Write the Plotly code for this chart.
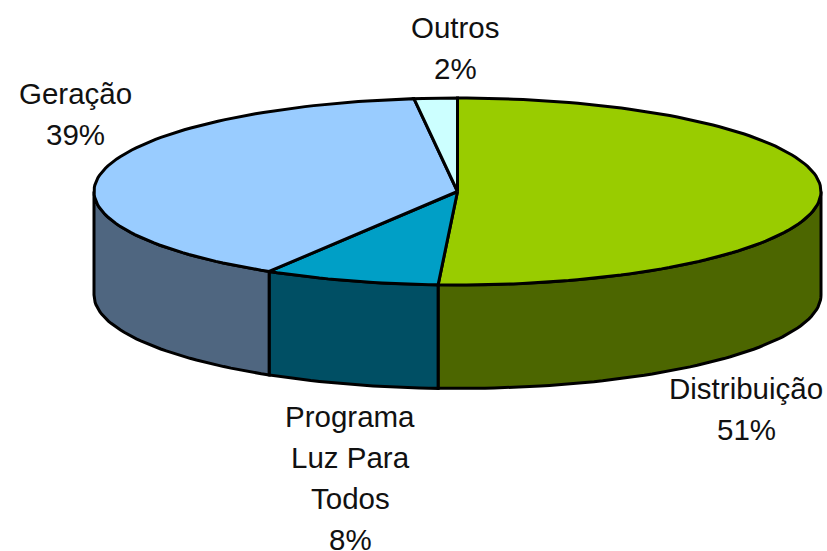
import numpy as np
import plotly.graph_objects as go

categories = [["Distribuição"], ["Programa", "Luz Para", "Todos"], ["Geração"], ["Outros"]]
shares = [50.85, 7.82, 39.42, 1.91]
top_colors = ["#99CC00", "#009FC6", "#99CCFF", "#CCFFFF"]
side_colors = ["#4C6600", "#004F64", "#4F6680", "#667F80"]
label_xy = [(746, 388), (350, 416), (75.5, 93.5), (455, 27.5)]

CX, CY, RX, RY, DEPTH = 457.5, 191.5, 363.5, 93.5, 103.5
LINE_STEP = 41.2

def rim(a0, a1, drop=0.0):
    n = max(2, int(abs(a1 - a0) / 1.5) + 2)
    t = np.radians(np.linspace(a0, a1, n))
    return CX + RX * np.sin(t), CY - RY * np.cos(t) + drop

fig = go.Figure()

def poly(x, y, color):
    fig.add_trace(go.Scatter(x=list(x), y=list(y), mode="lines", fill="toself",
                             fillcolor=color, line=dict(color="black", width=3),
                             hoverinfo="skip", showlegend=False))

edges = np.concatenate([[0], np.cumsum(shares) * 3.6])

# visible outer wall of each slice (front half of the ellipse only)
for i in range(len(shares)):
    a0, a1 = edges[i], edges[i + 1]
    lo, hi = max(a0, 90), min(a1, 270)
    if lo < hi:
        xt, yt = rim(lo, hi)
        xb, yb = rim(hi, lo, DEPTH)
        poly(np.r_[xt, xb, xt[0]], np.r_[yt, yb, yt[0]], side_colors[i])

# top face of each slice
for i in range(len(shares)):
    x, y = rim(edges[i], edges[i + 1])
    poly(np.r_[CX, x, CX], np.r_[CY, y, CY], top_colors[i])

for i, lines in enumerate(categories):
    for j, line in enumerate(lines + [f"{round(shares[i])}%"]):
        fig.add_annotation(x=label_xy[i][0], y=label_xy[i][1] + j * LINE_STEP,
                           xref="x", yref="y", text=line, showarrow=False,
                           xanchor="center", yanchor="middle",
                           font=dict(family="Liberation Sans", size=29.5, color="#111111"))

fig.update_layout(width=827, height=551, margin=dict(l=0, r=0, t=0, b=0),
                  paper_bgcolor="white", plot_bgcolor="white", showlegend=False,
                  xaxis=dict(range=[0, 827], visible=False, fixedrange=True),
                  yaxis=dict(range=[551, 0], visible=False, fixedrange=True))
fig.write_html("out.html", config={"displayModeBar": False},
               post_script="document.body.style.margin='0';document.documentElement.style.overflow='hidden';")
